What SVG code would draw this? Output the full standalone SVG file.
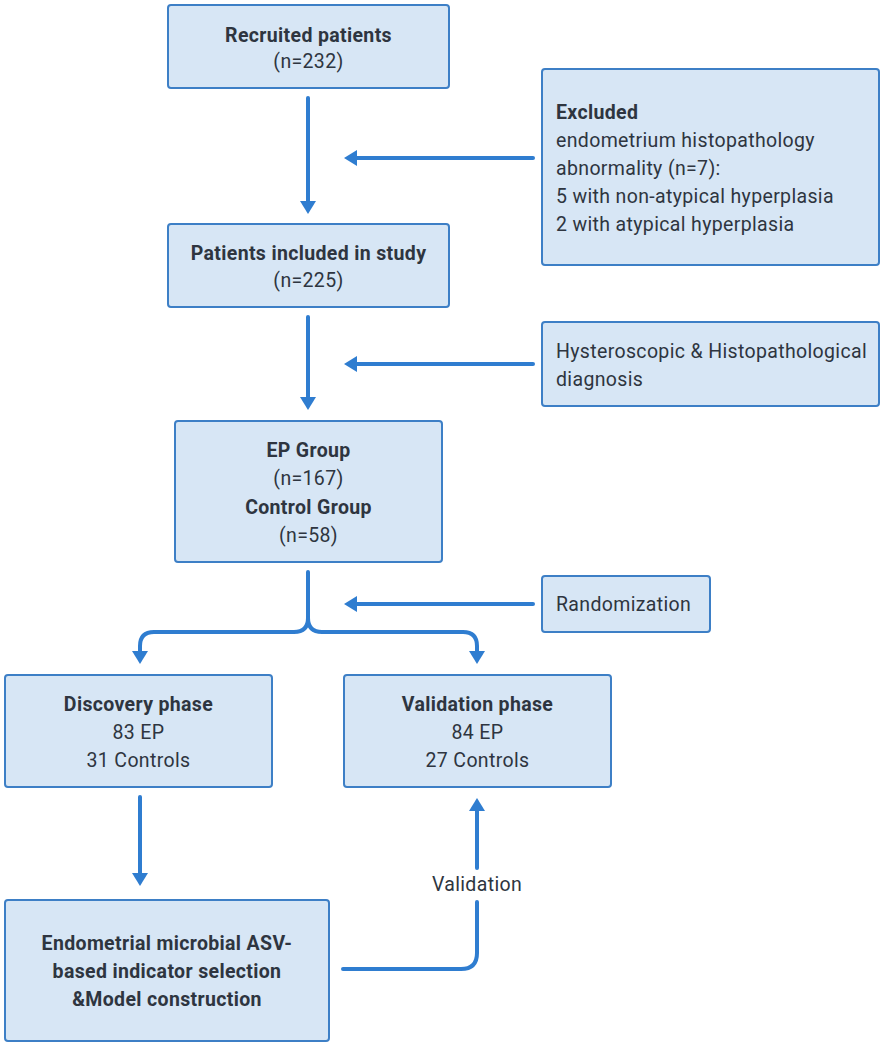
<svg xmlns="http://www.w3.org/2000/svg" width="886" height="1047" viewBox="0 0 886 1047">
<defs>
<style>
.box{fill:#d7e6f5;stroke:#3d7fc6;stroke-width:2}
text{font-family:Roboto,"Liberation Sans",sans-serif;font-size:19.5px;letter-spacing:0.35px;fill:#2e3540}
.b{font-weight:bold}
.c{text-anchor:middle}
.ln{fill:none;stroke:#2f7dd0;stroke-width:4;stroke-linecap:round;stroke-linejoin:round}
.ah{fill:#2f7dd0}
</style>
</defs>
<rect width="886" height="1047" fill="#ffffff"/>
<g id="n-recruited"><rect class="box" x="168" y="5" width="281" height="83" rx="3"/>
<text class="c b" x="308.5" y="42">Recruited patients</text>
<text class="c" x="308.5" y="68">(n=232)</text></g>
<g id="n-excluded"><rect class="box" x="542" y="69" width="337" height="196" rx="3"/>
<text class="b" x="556" y="119">Excluded</text>
<text x="556" y="147">endometrium histopathology</text>
<text x="556" y="175">abnormality (n=7):</text>
<text x="556" y="203">5 with non-atypical hyperplasia</text>
<text x="556" y="231">2 with atypical hyperplasia</text></g>
<g id="n-included"><rect class="box" x="168" y="224" width="281" height="83" rx="3"/>
<text class="c b" x="308.5" y="260">Patients included in study</text>
<text class="c" x="308.5" y="287">(n=225)</text></g>
<g id="n-hystero"><rect class="box" x="542" y="322" width="337" height="84" rx="3"/>
<text x="556" y="358">Hysteroscopic &amp; Histopathological</text>
<text x="556" y="386">diagnosis</text></g>
<g id="n-groups"><rect class="box" x="175" y="421" width="267" height="141" rx="3"/>
<text class="c b" x="308.5" y="457">EP Group</text>
<text class="c" x="308.5" y="485">(n=167)</text>
<text class="c b" x="308.5" y="514">Control Group</text>
<text class="c" x="308.5" y="542">(n=58)</text></g>
<g id="n-random"><rect class="box" x="542" y="576" width="168" height="56" rx="3"/>
<text x="556" y="611">Randomization</text></g>
<g id="n-discovery"><rect class="box" x="5" y="675" width="267" height="112" rx="3"/>
<text class="c b" x="138.5" y="711">Discovery phase</text>
<text class="c" x="138.5" y="739">83 EP</text>
<text class="c" x="138.5" y="767">31 Controls</text></g>
<g id="n-validation"><rect class="box" x="344" y="675" width="267" height="112" rx="3"/>
<text class="c b" x="477.5" y="711">Validation phase</text>
<text class="c" x="477.5" y="739">84 EP</text>
<text class="c" x="477.5" y="767">27 Controls</text></g>
<g id="n-model"><rect class="box" x="5" y="900" width="324" height="141" rx="3"/>
<text class="c b" x="167" y="950">Endometrial microbial ASV-</text>
<text class="c b" x="167" y="978">based indicator selection</text>
<text class="c b" x="167" y="1006">&amp;Model construction</text></g>
<g id="connectors">
<path class="ln" d="M308 98V202"/>
<polygon class="ah" points="300,201 316,201 308,214"/>
<path class="ln" d="M533 158H356"/>
<polygon class="ah" points="357,150 357,166 344,158"/>
<path class="ln" d="M308 317V398"/>
<polygon class="ah" points="300,397 316,397 308,410"/>
<path class="ln" d="M533 364H356"/>
<polygon class="ah" points="357,356 357,372 344,364"/>
<path class="ln" d="M533 604H356"/>
<polygon class="ah" points="357,596 357,612 344,604"/>
<path class="ln" d="M308 572V618Q308 632 294 632H154Q140 632 140 646V652"/>
<path class="ln" d="M308 618Q308 632 322 632H463Q477 632 477 646V652"/>
<polygon class="ah" points="132,651 148,651 140,664"/>
<polygon class="ah" points="469,651 485,651 477,664"/>
<path class="ln" d="M140 797V874"/>
<polygon class="ah" points="132,873 148,873 140,886"/>
<path class="ln" d="M343 969H461Q477 969 477 953V902"/>
<path class="ln" d="M477 868V810"/>
<polygon class="ah" points="469,811 485,811 477,798"/>
<text class="c" x="477" y="891">Validation</text>
</g>
</svg>
